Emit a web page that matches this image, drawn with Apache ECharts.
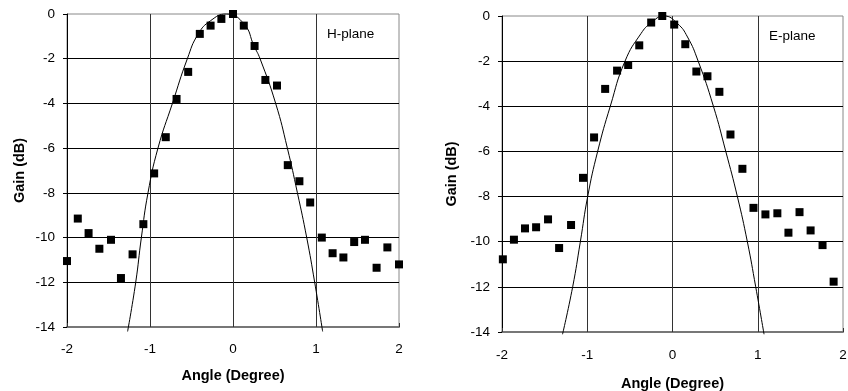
<!DOCTYPE html>
<html>
<head>
<meta charset="utf-8">
<script src="https://cdn.jsdelivr.net/npm/echarts@6/dist/echarts.min.js"></script>
<style>
html,body{margin:0;padding:0;background:#fff;}
#c{width:848px;height:391px;}
</style>
</head>
<body>
<div id="c"></div>
<script>
// H-plane measured points
var hAngle = [-2, -1.87, -1.74, -1.61, -1.47, -1.35, -1.21, -1.08, -0.95, -0.81, -0.68, -0.54, -0.40, -0.27, -0.14, 0, 0.13, 0.26, 0.39, 0.53, 0.66, 0.80, 0.93, 1.07, 1.20, 1.33, 1.46, 1.59, 1.73, 1.86, 2.0];
var hGain = [-11.05, -9.15, -9.80, -10.50, -10.10, -11.81, -10.75, -9.40, -7.13, -5.51, -3.80, -2.59, -0.89, -0.52, -0.22, 0, -0.52, -1.43, -2.95, -3.20, -6.76, -7.48, -8.43, -10.0, -10.7, -10.89, -10.2, -10.1, -11.35, -10.44, -11.2];
// H-plane fitted curve
var hFitAngle = [-1.27, -1.172, -1.104, -1.024, -0.904, -0.73, -0.55, -0.42, -0.27, -0.08, 0.133, 0.253, 0.326, 0.514, 0.655, 0.776, 0.888, 0.984, 1.08];
var hFitGain = [-14.2, -12, -10, -8, -6, -4, -2, -0.9, -0.3, 0, -0.45, -1.43, -2, -4, -6, -8, -10, -12, -14.2];

// E-plane measured points
var eAngle = [-1.99, -1.86, -1.73, -1.60, -1.46, -1.33, -1.19, -1.05, -0.92, -0.79, -0.65, -0.52, -0.39, -0.25, -0.12, 0.02, 0.15, 0.28, 0.41, 0.55, 0.68, 0.82, 0.95, 1.09, 1.23, 1.36, 1.49, 1.62, 1.76, 1.89];
var eGain = [-10.78, -9.91, -9.41, -9.36, -9.01, -10.28, -9.26, -7.17, -5.38, -3.23, -2.42, -2.17, -1.30, -0.29, 0, -0.38, -1.25, -2.46, -2.67, -3.36, -5.25, -6.77, -8.50, -8.79, -8.74, -9.60, -8.69, -9.50, -10.15, -11.77];
// E-plane fitted curve
var eFitAngle = [-1.29, -1.171, -1.081, -0.995, -0.878, -0.73, -0.557, -0.37, -0.253, -0.1, 0.059, 0.176, 0.301, 0.48, 0.625, 0.761, 0.878, 0.976, 1.074];
var eFitGain = [-14.1, -12, -10, -8, -6, -4, -2, -0.78, -0.31, 0, -0.34, -0.93, -2, -4, -6, -8, -10, -12, -14.1];

var xTicks = {min: -2, max: 2, interval: 1};
var yTicks = {min: -14, max: 0, interval: 2};
var xName = 'Angle (Degree)';
var yName = 'Gain (dB)';
var panelLabels = ['H-plane', 'E-plane'];

function pairs(a, b) { return a.map(function (v, i) { return [v, b[i]]; }); }

var FONT = "'Liberation Sans', Arial, sans-serif";

function xAxis(idx, gap, margin) {
  return {
    type: 'value', gridIndex: idx, min: xTicks.min, max: xTicks.max, interval: xTicks.interval,
    name: xName, nameLocation: 'middle', nameGap: gap,
    nameTextStyle: {fontFamily: FONT, fontWeight: 'bold', fontSize: 14.5, color: '#000'},
    axisLine: {show: true, onZero: false, lineStyle: {color: '#777', width: 2}},
    axisTick: {show: true, inside: true, length: 4, lineStyle: {color: '#333'}},
    axisLabel: {fontFamily: FONT, fontSize: 13.5, color: '#000', margin: margin},
    splitLine: {show: true, showMinLine: false, showMaxLine: false, lineStyle: {color: '#333', width: 1}}
  };
}
function yAxis(idx, gap, margin) {
  return {
    type: 'value', gridIndex: idx, min: yTicks.min, max: yTicks.max, interval: yTicks.interval,
    name: yName, nameLocation: 'middle', nameGap: gap, nameRotate: 90,
    nameTextStyle: {fontFamily: FONT, fontWeight: 'bold', fontSize: 14.5, color: '#000'},
    axisLine: {show: true, onZero: false, lineStyle: {color: '#000', width: 1}},
    axisTick: {show: true, inside: false, length: 4, lineStyle: {color: '#000'}},
    axisLabel: {fontFamily: FONT, fontSize: 13.5, color: '#000', margin: margin},
    splitLine: {show: true, showMinLine: false, showMaxLine: false, lineStyle: {color: '#000', width: 1}}
  };
}

var chart = echarts.init(document.getElementById('c'), null, {renderer: 'canvas'});
chart.setOption({
  animation: false,
  backgroundColor: '#fff',
  grid: [
    {left: 67, top: 14, width: 332, height: 313, show: true, borderColor: '#888', borderWidth: 1, outerBoundsMode: 'none', containLabel: false},
    {left: 502, top: 16, width: 341, height: 316, show: true, borderColor: '#888', borderWidth: 1, outerBoundsMode: 'none', containLabel: false}
  ],
  xAxis: [xAxis(0, 41, 15), xAxis(1, 44, 16)],
  yAxis: [yAxis(0, 40, 12), yAxis(1, 43, 12)],
  graphic: [
    {type: 'text', left: 327, top: 27, style: {text: panelLabels[0], font: '13.5px ' + FONT, fill: '#000'}},
    {type: 'text', left: 769, top: 29, style: {text: panelLabels[1], font: '13.5px ' + FONT, fill: '#000'}}
  ],
  series: [
    {type: 'line', xAxisIndex: 0, yAxisIndex: 0, data: pairs(hFitAngle, hFitGain), smooth: 0.5, showSymbol: false, clip: false,
      lineStyle: {color: '#000', width: 1}},
    {type: 'scatter', xAxisIndex: 0, yAxisIndex: 0, data: pairs(hAngle, hGain), symbol: 'rect', symbolSize: 8, clip: false,
      itemStyle: {color: '#000', opacity: 1}},
    {type: 'line', xAxisIndex: 1, yAxisIndex: 1, data: pairs(eFitAngle, eFitGain), smooth: 0.5, showSymbol: false, clip: false,
      lineStyle: {color: '#000', width: 1}},
    {type: 'scatter', xAxisIndex: 1, yAxisIndex: 1, data: pairs(eAngle, eGain), symbol: 'rect', symbolSize: 8, clip: false,
      itemStyle: {color: '#000', opacity: 1}}
  ]
});
</script>
</body>
</html>
